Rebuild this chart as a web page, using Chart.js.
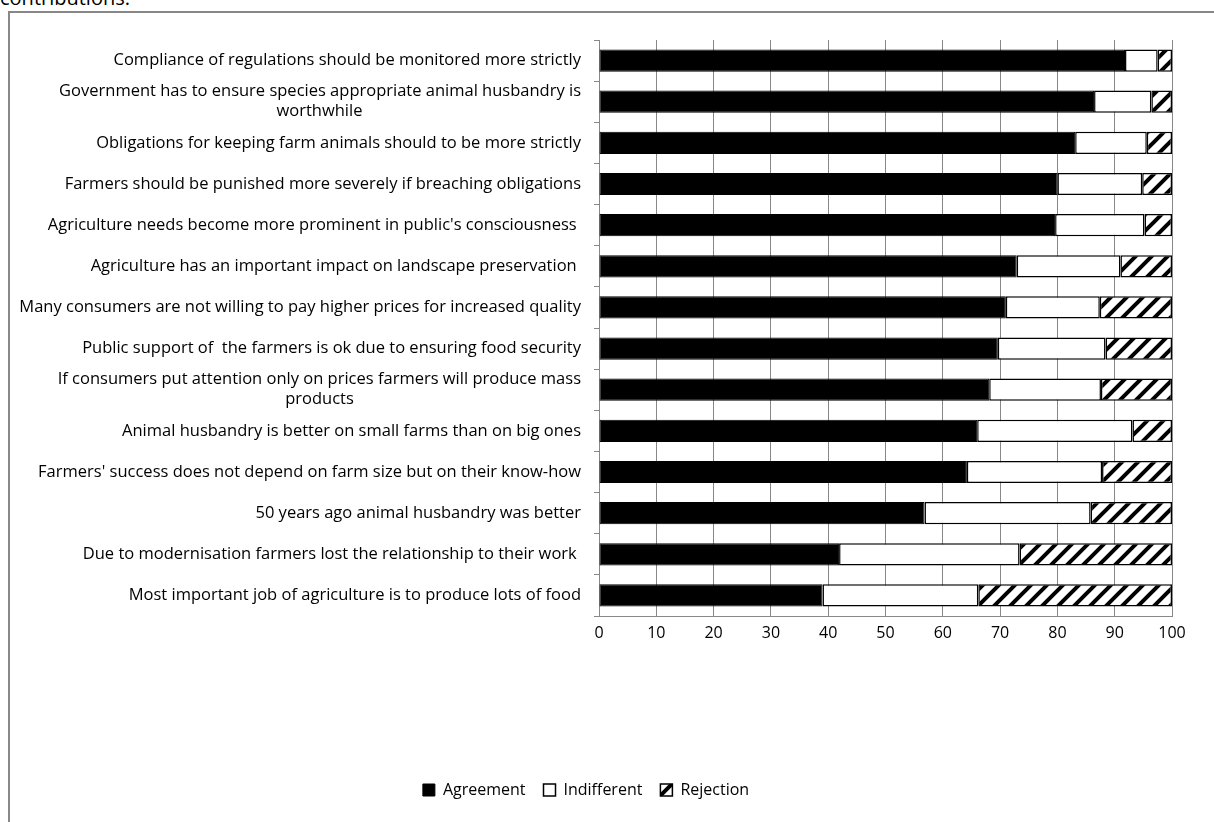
<!DOCTYPE html>
<html>
<head>
<meta charset="utf-8">
<script src="https://cdn.jsdelivr.net/npm/chart.js@4"></script>
<style>
  html, body { margin: 0; padding: 0; background: #fff; overflow: hidden; }
  #wrap { position: absolute; left: 0; top: 0; width: 1214px; height: 822px; }
  #frame { position: absolute; left: 8px; top: 11px; width: 1300px; height: 900px;
           border-left: 2px solid #888; border-top: 2px solid #888; }
  #cap { position: absolute; left: 0px; top: -16px; font-family: "Open Sans", sans-serif;
         font-size: 20px; color: #000; }
  canvas { position: absolute; left: 0; top: 0; }
</style>
</head>
<body>
<div id="wrap">
  <div id="cap">contributions.</div>
  <div id="frame"></div>
  <canvas id="c" width="1214" height="822"></canvas>
</div>
<script>
const categories = [
  "Compliance of regulations should be monitored more strictly",
  ["Government has to ensure species appropriate animal husbandry is", "worthwhile"],
  "Obligations for keeping farm animals should to be more strictly",
  "Farmers should be punished more severely if breaching obligations",
  "Agriculture needs become more prominent in public's consciousness ",
  "Agriculture has an important impact on landscape preservation ",
  "Many consumers are not willing to pay higher prices for increased quality",
  "Public support of  the farmers is ok due to ensuring food security",
  ["If consumers put attention only on prices farmers will produce mass", "products"],
  "Animal husbandry is better on small farms than on big ones",
  "Farmers' success does not depend on farm size but on their know-how",
  "50 years ago animal husbandry was better",
  "Due to modernisation farmers lost the relationship to their work ",
  "Most important job of agriculture is to produce lots of food"
];
const agreement   = [91.8, 86.4, 83.1, 80.0, 79.6, 72.9, 71.0, 69.6, 68.1, 66.0, 64.2, 56.8, 41.9, 39.0];
const indifferent = [ 5.7, 10.0, 12.5, 14.8, 15.6, 18.1, 16.4, 18.8, 19.5, 27.1, 23.6, 29.0, 31.5, 27.2];
const rejection   = [ 2.5,  3.6,  4.4,  5.2,  4.8,  9.0, 12.6, 11.6, 12.4,  6.9, 12.2, 14.2, 26.6, 33.8];
const xTicks = [0, 10, 20, 30, 40, 50, 60, 70, 80, 90, 100];

const FONT = "'Open Sans', sans-serif";
const LABEL_SIZE = 16.5;

// Centre the continuation line of wrapped labels under the first line (as in the original)
function centredLabels(list) {
  const m = document.createElement('canvas').getContext('2d');
  m.font = LABEL_SIZE + "px " + FONT;
  const sp = m.measureText(' ').width;
  return list.map(l => {
    if (!Array.isArray(l)) return l;
    const w0 = m.measureText(l[0]).width;
    return l.map((s, i) => {
      if (i === 0) return s;
      const pad = Math.max(0, Math.round((w0 - m.measureText(s).width) / 2 / sp));
      return s + ' '.repeat(pad);
    });
  });
}

function hatch() {
  const P = 16;
  const p = document.createElement('canvas');
  p.width = P; p.height = P;
  const g = p.getContext('2d');
  g.fillStyle = '#fff'; g.fillRect(0, 0, P, P);
  g.strokeStyle = '#000'; g.lineWidth = 4;
  g.beginPath();
  g.moveTo(-4, P + 4); g.lineTo(P + 4, -4);      // x + y = P
  g.moveTo(-4, 4); g.lineTo(4, -4);              // x + y = 0
  g.moveTo(P - 4, P + 4); g.lineTo(P + 4, P - 4); // x + y = 2P
  g.stroke();
  return document.getElementById('c').getContext('2d').createPattern(p, 'repeat');
}

const ctx = document.getElementById('c');
new Chart(ctx, {
  type: 'bar',
  data: {
    labels: centredLabels(categories),
    datasets: [
      { label: 'Agreement', data: agreement, backgroundColor: '#000', borderColor: '#000', borderWidth: 1 },
      { label: 'Indifferent', data: indifferent, backgroundColor: '#fff', borderColor: '#000', borderWidth: 1.5 },
      { label: 'Rejection', data: rejection, backgroundColor: hatch(), borderColor: '#000', borderWidth: 1.5 }
    ]
  },
  options: {
    indexAxis: 'y',
    responsive: false,
    animation: false,
    devicePixelRatio: 1,
    datasets: { bar: { categoryPercentage: 1, barPercentage: 0.54, borderSkipped: false } },
    layout: { padding: { left: 0, right: 42, top: 40, bottom: 14 } },
    plugins: {
      tooltip: { enabled: false },
      legend: {
        position: 'bottom',
        labels: {
          font: { family: FONT, size: 16 }, color: '#000',
          boxWidth: 12, boxHeight: 12, padding: 18, useBorderRadius: false
        }
      }
    },
    scales: {
      x: {
        stacked: true, min: 0, max: 100,
        afterBuildTicks: (s) => { s.ticks = xTicks.map(v => ({ value: v })); },
        afterFit: (s) => { s.height = 148; },
        grid: { color: '#888', lineWidth: 1, drawTicks: false },
        border: { color: '#888', width: 1 },
        ticks: { font: { family: FONT, size: 16 }, color: '#000', padding: 8 }
      },
      y: {
        stacked: true,
        afterFit: (s) => { s.width = 599; },
        grid: { offset: true, drawOnChartArea: false, color: '#888', tickLength: 5 },
        border: { color: '#888', width: 1 },
        ticks: { font: { family: FONT, size: LABEL_SIZE, lineHeight: 1.22 }, color: '#000', padding: 13, autoSkip: false }
      }
    }
  }
});
</script>
</body>
</html>
